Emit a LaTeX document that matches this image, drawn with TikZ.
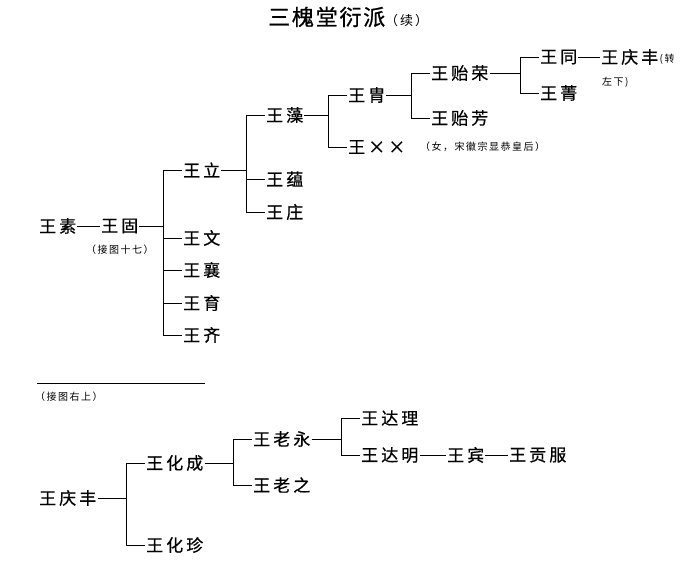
\documentclass[tikz,border=0pt]{standalone}
\usepackage{fontspec}
\newfontfamily\cjk[LetterSpace=18,FakeBold=0.6]{Noto Sans CJK SC}
\newfontfamily\cjknote[LetterSpace=15]{Noto Sans CJK SC}
\newfontfamily\cjktitle[LetterSpace=8,FakeBold=0.8]{Noto Sans CJK SC}
\usetikzlibrary{positioning,calc}

\begin{document}
\begin{tikzpicture}
		[   x=1pt,y=-1pt,
		pnode/.style={anchor=west,inner sep=1pt,font={\cjk\fontsize{17}{17}\selectfont}},
		nnode/.style={anchor=west,inner sep=0pt,font={\cjknote\fontsize{10}{10}\selectfont}},
		tnode/.style={anchor=west,inner sep=0pt,font={\cjktitle\fontsize{22}{22}\selectfont}},
		]
		\tikzset{tree line/.style={draw,line width=0.8pt}}
		\useasboundingbox (0,0) rectangle (691,569);
		
		\node[tnode] (title) at (268,17) {三槐堂衍派{\cjknote\fontsize{13}{13}\selectfont（续）}};
		
		% upper tree
		\node[pnode] (su) at (38,226) {王素};
		\node[pnode] (gu) at (100,226) {王固};
		\node[nnode] (n-gu) at (86,250) {（接图十七）};
		
		\node[pnode] (li) at (182,170) {王立};
		\node[pnode] (wen) at (182,238) {王文};
		\node[pnode] (xiang) at (182,270) {王襄};
		\node[pnode] (yu) at (182,303) {王育};
		\node[pnode] (qi) at (182,335) {王齐};
		
		\node[pnode] (zao) at (265,115) {王藻};
		\node[pnode] (yun) at (265,179) {王蕴};
		\node[pnode] (zhuang) at (265,212) {王庄};
		
		\node[pnode] (zhou) at (347,95) {王胄};
		\node[pnode] (xx) at (347,147) {王××};
		\node[nnode] (n-xx) at (420,147) {（女，宋徽宗显恭皇后）};
		
		\node[pnode] (yirong) at (430,73) {王贻荣};
		\node[pnode] (yifang) at (430,118) {王贻芳};
		
		\node[pnode] (tong) at (539,57) {王同};
		\node[pnode] (jing) at (539,93) {王菁};
		\node[pnode] (qf-1) at (600,57) {王庆丰};
		\node[nnode,right=0pt of qf-1,yshift=-2pt] (n-qf-1) {(转};
		\node[nnode] (n-qf-2) at (602,82) {左下)};
		
		% lower tree
		\coordinate (sep-l) at (37,383);
		\coordinate (sep-r) at (205,383);
		\draw[line width=0.8pt] (sep-l) -- (sep-r);
		\node[nnode] (n-qf-3) at (35,397) {（接图右上）};
		
		\node[pnode] (qf-2) at (38,498) {王庆丰};
		\node[pnode] (huacheng) at (145,463) {王化成};
		\node[pnode] (huazhen) at (145,545) {王化珍};
		\node[pnode] (laoyong) at (252,439) {王老永};
		\node[pnode] (laozhi) at (252,485) {王老之};
		\node[pnode] (dali) at (360,418) {王达理};
		\node[pnode] (daming) at (360,455) {王达明};
		\node[pnode] (bin) at (446,455) {王宾};
		\node[pnode] (gongfu) at (508,455) {王贡服};
		
		% straight links
		\path[tree line] (su) -- (gu);
		\path[tree line] (tong) -- (qf-1);
		\path[tree line] (daming) -- (bin);
		\path[tree line] (bin) -- (gongfu);
		
		% elbow links
		\foreach \c in {li,wen,xiang,yu,qi}
		{
			\path[tree line] (gu.east) -| ([xshift=-19pt]\c.west) -- (\c.west);
		}
		\foreach \c in {zao,yun,zhuang}
		{
			\path[tree line] (li.east) -| ([xshift=-19pt]\c.west) -- (\c.west);
		}
		\foreach \c in {zhou,xx}
		{
			\path[tree line] (zao.east) -| ([xshift=-19pt]\c.west) -- (\c.west);
		}
		\foreach \c in {yirong,yifang}
		{
			\path[tree line] (zhou.east) -| ([xshift=-19pt]\c.west) -- (\c.west);
		}
		\foreach \c in {tong,jing}
		{
			\path[tree line] (yirong.east) -| ([xshift=-19pt]\c.west) -- (\c.west);
		}
		\foreach \c in {huacheng,huazhen}
		{
			\path[tree line] (qf-2.east) -| ([xshift=-19pt]\c.west) -- (\c.west);
		}
		\foreach \c in {laoyong,laozhi}
		{
			\path[tree line] (huacheng.east) -| ([xshift=-19pt]\c.west) -- (\c.west);
		}
		\foreach \c in {dali,daming}
		{
			\path[tree line] (laoyong.east) -| ([xshift=-19pt]\c.west) -- (\c.west);
		}
\end{tikzpicture}
\end{document}
